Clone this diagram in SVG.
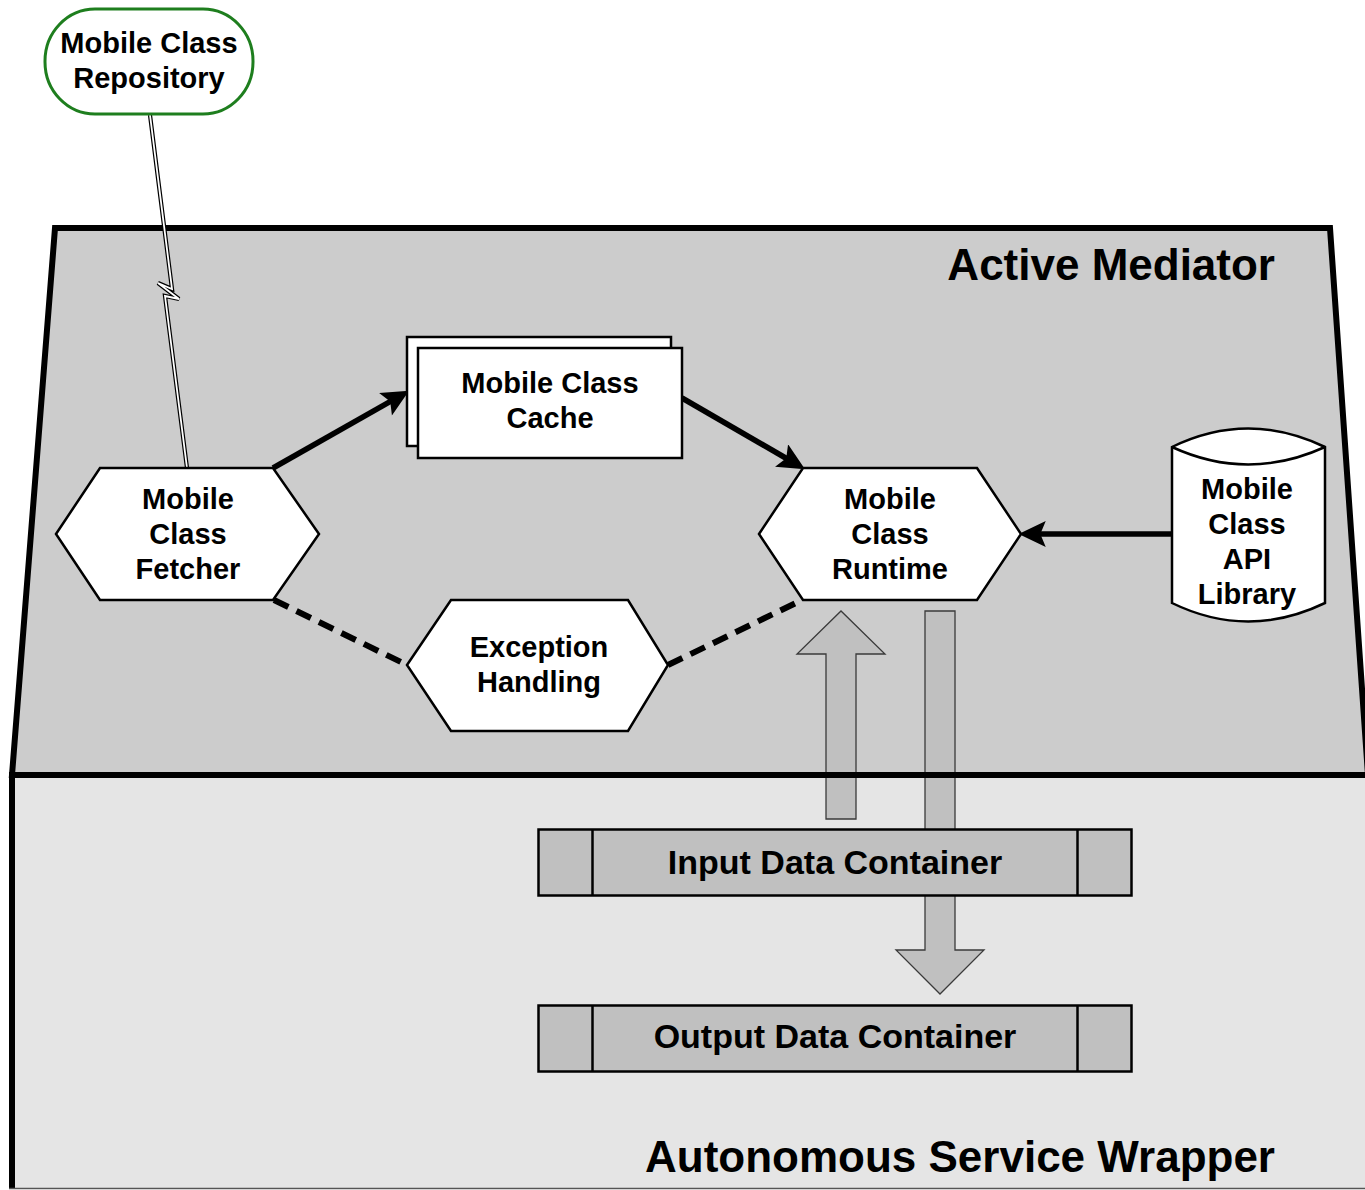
<svg xmlns="http://www.w3.org/2000/svg" width="1365" height="1190" viewBox="0 0 1365 1190">
  <style>
    .lbl { font-family: "Liberation Sans", Arial, Helvetica, sans-serif; font-weight: bold; font-size: 29px; fill: #000; text-anchor: middle; }
    .title { font-family: "Liberation Sans", Arial, Helvetica, sans-serif; font-weight: bold; font-size: 44px; fill: #000; text-anchor: end; }
    .cont { font-family: "Liberation Sans", Arial, Helvetica, sans-serif; font-weight: bold; font-size: 34px; fill: #000; text-anchor: middle; }
    .shape { fill: #fff; stroke: #000; stroke-width: 2.5; stroke-linejoin: miter; }
    .box { fill: #c0c0c0; stroke: #000; stroke-width: 2.5; }
    .flow { fill: #c0c0c0; stroke: #3a3a3a; stroke-width: 1.3; }
    .solid { fill: none; stroke: #000; stroke-width: 5.5; }
    .dash { fill: none; stroke: #000; stroke-width: 6; stroke-dasharray: 16 9; }
  </style>
  <defs>
    <marker id="head" markerUnits="userSpaceOnUse" markerWidth="30" markerHeight="26" viewBox="0 0 26 24" refX="9" refY="12" orient="auto">
      <path d="M0,0 L25,12 L0,24 L5,12 z" fill="#000"/>
    </marker>
  </defs>

  <rect width="1365" height="1190" fill="#fff"/>

  <!-- Autonomous Service Wrapper (lower container) -->
  <g id="service-wrapper">
    <rect x="12" y="775" width="1360" height="413" fill="#e5e5e5"/>
    <line x1="12" y1="772" x2="12" y2="1188" stroke="#000" stroke-width="6"/>
    <line x1="9" y1="1188.5" x2="1365" y2="1188.5" stroke="#555" stroke-width="1.5"/>
    <text class="title" x="1275" y="1172">Autonomous Service Wrapper</text>
  </g>

  <!-- Active Mediator (upper trapezoid) -->
  <g id="active-mediator">
    <polygon points="55,228 1330,228 1368,775 12,775" fill="#cccccc" stroke="#000" stroke-width="6"/>
    <text class="title" x="1275" y="280">Active Mediator</text>
  </g>

  <!-- data flow arrows between runtime and containers -->
  <g id="data-flows">
    <polygon class="flow" points="826,819 826,654 797,654 841,611 885,654 856,654 856,819"/>
    <polygon class="flow" points="925,611 955,611 955,950 984,950 940,994 896,950 925,950"/>
  </g>

  <!-- boundary between mediator and wrapper -->
  <line x1="9" y1="775" x2="1365" y2="775" stroke="#000" stroke-width="6"/>

  <g id="input-data-container">
    <rect class="box" x="538.5" y="829.5" width="593" height="66"/>
    <line x1="592.5" y1="829.5" x2="592.5" y2="895.5" stroke="#000" stroke-width="2.5"/>
    <line x1="1077.5" y1="829.5" x2="1077.5" y2="895.5" stroke="#000" stroke-width="2.5"/>
    <text class="cont" x="835" y="874">Input Data Container</text>
  </g>

  <g id="output-data-container">
    <rect class="box" x="538.5" y="1005.5" width="593" height="66"/>
    <line x1="592.5" y1="1005.5" x2="592.5" y2="1071.5" stroke="#000" stroke-width="2.5"/>
    <line x1="1077.5" y1="1005.5" x2="1077.5" y2="1071.5" stroke="#000" stroke-width="2.5"/>
    <text class="cont" x="835" y="1048">Output Data Container</text>
  </g>

  <!-- connectors -->
  <g id="connectors">
    <!-- wireless link from repository to fetcher -->
    <polyline points="150,115 172,289 158,283 179,299 165,296 187,468" fill="none" stroke="#000" stroke-width="4.2" stroke-linejoin="miter"/>
    <polyline points="150,115 172,289 158,283 179,299 165,296 187,468" fill="none" stroke="#fff" stroke-width="1.8" stroke-linejoin="miter"/>
    <line class="solid" x1="273" y1="468" x2="394" y2="399.4" marker-end="url(#head)"/>
    <line class="solid" x1="682" y1="398" x2="790" y2="460.5" marker-end="url(#head)"/>
    <line class="solid" x1="1172" y1="534" x2="1036" y2="534" marker-end="url(#head)"/>
    <line class="dash" x1="274" y1="600" x2="407" y2="665"/>
    <line class="dash" x1="668" y1="665" x2="802" y2="600"/>
  </g>

  <g id="mobile-class-repository">
    <rect x="45" y="9" width="208" height="105" rx="50" ry="52" fill="#fff" stroke="#1e7e1e" stroke-width="3"/>
    <text class="lbl" x="149" y="53">Mobile Class</text>
    <text class="lbl" x="149" y="88">Repository</text>
  </g>

  <g id="mobile-class-fetcher">
    <polygon class="shape" points="56,534 100,468 273,468 319,534 273,600 100,600"/>
    <text class="lbl" x="188" y="509">Mobile</text>
    <text class="lbl" x="188" y="544">Class</text>
    <text class="lbl" x="188" y="579">Fetcher</text>
  </g>

  <g id="mobile-class-cache">
    <rect class="shape" x="407" y="337" width="264" height="109"/>
    <rect class="shape" x="418" y="348" width="264" height="110"/>
    <text class="lbl" x="550" y="393">Mobile Class</text>
    <text class="lbl" x="550" y="428">Cache</text>
  </g>

  <g id="mobile-class-runtime">
    <polygon class="shape" points="759,534 803,468 977,468 1021,534 977,600 803,600"/>
    <text class="lbl" x="890" y="509">Mobile</text>
    <text class="lbl" x="890" y="544">Class</text>
    <text class="lbl" x="890" y="579">Runtime</text>
  </g>

  <g id="exception-handling">
    <polygon class="shape" points="407,665 451,600 628,600 668,665 628,731 451,731"/>
    <text class="lbl" x="539" y="657">Exception</text>
    <text class="lbl" x="539" y="692">Handling</text>
  </g>

  <g id="mobile-class-api-library">
    <path class="shape" d="M1172,447 Q1248,410 1325,447 L1325,603 Q1248,640 1172,603 Z"/>
    <path d="M1172,447 Q1248,482 1325,447" fill="none" stroke="#000" stroke-width="2.5"/>
    <text class="lbl" x="1247" y="499">Mobile</text>
    <text class="lbl" x="1247" y="534">Class</text>
    <text class="lbl" x="1247" y="569">API</text>
    <text class="lbl" x="1247" y="604">Library</text>
  </g>
</svg>
